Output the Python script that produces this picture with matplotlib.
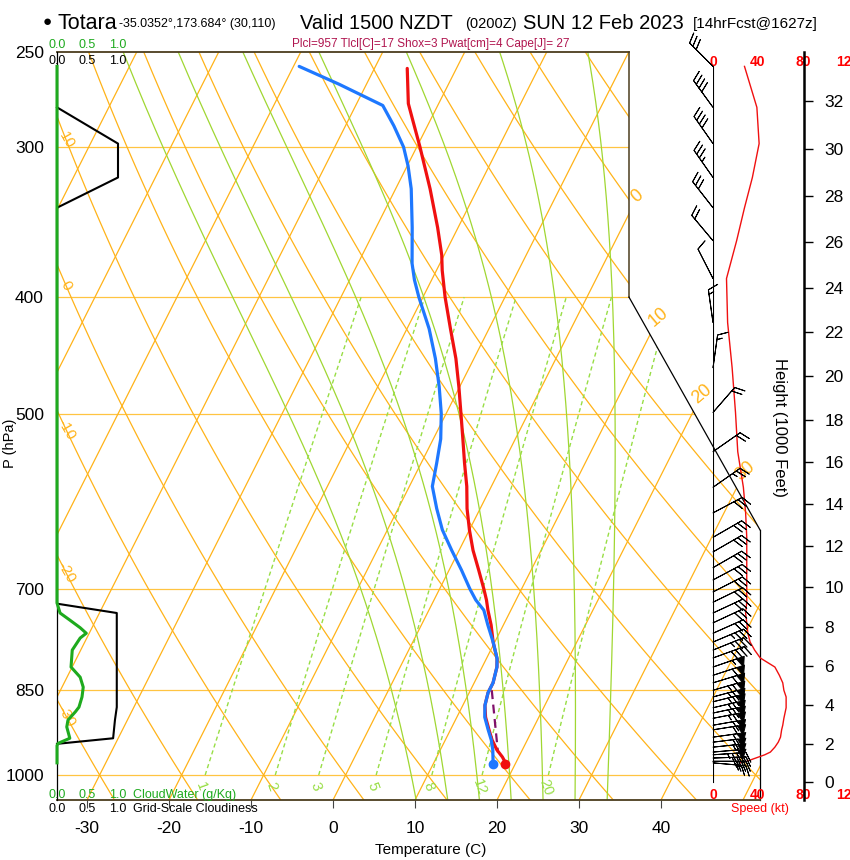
import numpy as np
import matplotlib
matplotlib.use("Agg")
import matplotlib.pyplot as plt
from matplotlib.transforms import Affine2D, blended_transform_factory
from matplotlib.patches import Polygon
from matplotlib.ticker import NullLocator

plt.rcParams['font.family'] = ['Liberation Sans', 'DejaVu Sans']
plt.rcParams['axes.unicode_minus'] = False

# ---------------- sounding data ----------------
temp_p = [258, 276, 284, 300, 325, 350, 369, 380, 400, 425, 450, 475, 500, 525, 550, 575, 600, 625, 650, 675,
          700, 715, 729, 750, 775, 800, 813, 838, 854, 875, 895, 917, 935, 953, 966, 979]
temp_c = [-36.0, -33.7, -32.3, -29.6, -25.8, -22.5, -20.3, -19.3, -17.3, -14.7, -12.2, -10.1, -8.2, -6.4, -4.7,
          -3.0, -1.6, 0.0, 1.7, 3.6, 5.4, 6.4, 7.2, 8.5, 9.8, 11.3, 11.8, 12.3, 12.3, 12.7, 13.5, 14.7, 15.7,
          16.9, 18.0, 18.9]
dewp_p = [257, 266, 277, 288, 300, 311, 325, 350, 375, 387, 400, 425, 450, 475, 500, 525, 550, 575, 600, 625,
          650, 675, 700, 715, 729, 750, 775, 800, 813, 838, 854, 875, 895, 917, 935, 953, 979]
dewp_c = [-49.3, -43.3, -36.7, -34.1, -31.6, -29.9, -28.1, -25.6, -23.4, -22.1, -20.5, -17.3, -14.7, -12.5,
          -10.6, -9.1, -8.1, -7.2, -5.3, -3.3, -0.9, 1.5, 3.7, 5.1, 6.7, 8.1, 9.8, 11.3, 11.8, 12.3, 12.3, 12.7,
          13.4, 14.6, 15.6, 16.4, 17.3]
dashed_p = [850, 958]
dashed_c = [12.6, 17.2]
sfc_p = 979
sfc_t = 18.8
sfc_td = 17.3

wind_p = [257, 278, 298, 318, 337, 359, 386, 420, 458, 499, 538, 576, 605, 634, 652, 672, 688, 704, 718, 733,
          747, 762, 775, 787, 799, 813, 826, 838, 850, 861, 869, 879, 888, 897, 909, 917, 930, 939, 948, 957,
          962, 968, 974, 977]
wind_spd = [28, 39, 41, 35, 28, 21, 12, 13, 17, 20, 22, 27, 29, 30, 30, 30, 30, 30, 30, 29,
            30, 31, 33, 37, 42, 55, 59, 62, 63, 65, 65, 65, 64, 63, 62, 61, 60, 58, 55, 51,
            46, 38, 30, 24]
wind_dir = [315, 324, 325, 325, 322, 320, 333, 352, 8, 41, 55, 55, 62, 60, 60, 60, 62, 63, 64, 65,
            65, 66, 67, 68, 70, 71, 72, 73, 74, 75, 76, 77, 78, 79, 80, 81, 82, 83, 84, 85,
            86, 88, 90, 95]

cloudiness_p = [278, 298, 318, 337, 720, 733, 813, 878, 900, 932, 942]
cloudiness = [0.0, 1.0, 1.0, 0.0, 0.0, 0.98, 0.98, 0.98, 0.95, 0.92, 0.0]
cloudwater_p = [257, 719, 733, 743, 754, 762, 769, 787, 813, 829, 845, 861, 878, 886, 900, 912, 932, 941, 945, 977]
cloudwater = [0, 0, 0.05, 0.21, 0.38, 0.48, 0.38, 0.25, 0.23, 0.38, 0.43, 0.41, 0.36, 0.30, 0.18, 0.16, 0.21,
              0.02, 0, 0]

isobars = [300, 400, 500, 700, 850, 1000]
isotherms = list(range(-110, 60, 10))
dry_thetas = list(range(-30, 130, 10))
moist_thetaw = [8, 12, 16, 20, 24, 28, 32]
mixing_ratios = [1, 2, 3, 5, 8, 12, 20]
temp_ticks = [-30, -20, -10, 0, 10, 20, 30, 40]
p_ticks = [250, 300, 400, 500, 700, 850, 1000]
height_kft = list(range(0, 34, 2))
speed_ticks = [0, 40, 80, 120]
cloud_ticks = [0.0, 0.5, 1.0]
theta_labels = [10, 0, -10, -20, -30]
isotherm_labels = [0, 10, 20, 30]

# ---------------- colours ----------------
ORANGE = '#FFB319'
GREEN_MOIST = '#A0D732'
GREEN_MR = '#98DE45'
CW_GREEN = '#1EAA1E'
BLUE = '#1E78FF'
RED = '#F01010'
PURPLE = '#80106A'
PINK = '#B0154F'
OLIVE = '#4B3D1E'

# ---------------- layout ----------------
W, H = 850, 860
fig = plt.figure(figsize=(W / 100, H / 100), dpi=100)


def fx(x):
    return x / W


def fy(y):
    return 1 - y / H


AX_L, AX_R, AX_T, AX_B = 57, 760, 52, 800
rect = [fx(AX_L), fy(AX_B), (AX_R - AX_L) / W, (AX_B - AX_T) / H]
ax = fig.add_axes(rect)
XMIN, XMAX = -33.66, 52.07
P_BOT, P_TOP = 1049.1, 250.0
ax.set_yscale('log')
ax.set_xlim(XMIN, XMAX)
ax.set_ylim(P_BOT, P_TOP)
ax.set_autoscale_on(False)
SKEW = 0.5373
skew_tr = ax.transScale + ax.transLimits + Affine2D().skew(np.arctan(SKEW), 0) + ax.transAxes


def yfrac(p):
    return np.log(P_BOT / np.asarray(p, float)) / np.log(P_BOT / P_TOP)


def xfrac(T, p):
    return (np.asarray(T, float) - XMIN) / (XMAX - XMIN) + SKEW * yfrac(p)


XA_CORNER = (629 - AX_L) / (AX_R - AX_L)
P_KNEE1, P_KNEE2 = 400, 625
clip_verts = [(0, 0), (0, 1), (XA_CORNER, 1), (XA_CORNER, yfrac(P_KNEE1)), (1, yfrac(P_KNEE2)), (1, 0)]
clip = Polygon(clip_verts, closed=True, transform=ax.transAxes, facecolor='none', edgecolor='none')


def boundary_x(p):
    p = np.asarray(p, float)
    yk1, yk2 = yfrac(P_KNEE1), yfrac(P_KNEE2)
    yf = yfrac(p)
    xb = np.where(yf >= yk1, XA_CORNER,
                  np.where(yf >= yk2, XA_CORNER + (1 - XA_CORNER) * (yk1 - yf) / (yk1 - yk2), 1.0))
    return xb


def skline(T, p, **kw):
    ln, = ax.plot(T, p, transform=skew_tr, **kw)
    ln.set_clip_path(clip)
    return ln


# isobars
for pb in isobars:
    ln, = ax.plot([0, 1], [yfrac(pb)] * 2, transform=ax.transAxes, color='#FFC442', lw=0.9)
    ln.set_clip_path(clip)

# isotherms
for T in isotherms:
    skline([T, T], [P_BOT, P_TOP], color=ORANGE, lw=0.9)

# dry adiabats
pgrid = np.geomspace(P_BOT, P_TOP, 80)
for th in dry_thetas:
    skline((th + 273.15) * (pgrid / 1000.0) ** 0.2857 - 273.15, pgrid, color=ORANGE, lw=0.9)

# moist adiabats
Rd, Cp, Lv, EPS = 287.04, 1005.7, 2.501e6, 0.622


def sat_mr(Tk, p):
    es = 6.112 * np.exp(17.67 * (Tk - 273.15) / (Tk - 29.65))
    return EPS * es / (p - es)


def dtdp(Tk, p):
    rs = sat_mr(Tk, p)
    return (Rd * Tk + Lv * rs) / (Cp + Lv * Lv * rs * EPS / (Rd * Tk * Tk)) / p


def integrate(T0, p0, p1, n=300):
    ps = np.linspace(p0, p1, n)
    Ts = [T0]
    for i in range(n - 1):
        p, h = ps[i], ps[i + 1] - ps[i]
        T = Ts[-1]
        k1 = dtdp(T, p)
        k2 = dtdp(T + h / 2 * k1, p + h / 2)
        k3 = dtdp(T + h / 2 * k2, p + h / 2)
        k4 = dtdp(T + h * k3, p + h)
        Ts.append(T + h / 6 * (k1 + 2 * k2 + 2 * k3 + k4))
    return ps, np.array(Ts)


for thw in moist_thetaw:
    pu, tu = integrate(thw + 273.15, 1000.0, P_TOP)
    pd, td = integrate(thw + 273.15, 1000.0, P_BOT, 30)
    pp = np.concatenate([pd[::-1], pu[1:]])
    tt = np.concatenate([td[::-1], tu[1:]]) - 273.15
    skline(tt, pp, color=GREEN_MOIST, lw=0.9)


# mixing ratio lines
def td_from_w(w, p):
    e = w * p / (622.0 + w)
    lr = np.log(e / 6.112)
    return 243.5 * lr / (17.67 - lr)


pm = np.geomspace(1000, 400, 40)
for w in mixing_ratios:
    skline(td_from_w(w, pm), pm, color=GREEN_MR, lw=1.0, ls=(0, (3, 2.2)))
    ax.text(td_from_w(w, 1023.0), 1023.0, str(w), transform=skew_tr, rotation=-70, color=GREEN_MR,
            fontsize=10.5, ha='center', va='center')

# dry adiabat labels at left edge
pfine = np.geomspace(P_BOT, P_TOP, 2000)
for th in theta_labels:
    Tc = (th + 273.15) * (pfine / 1000.0) ** 0.2857 - 273.15
    xf = xfrac(Tc, pfine)
    order = np.argsort(xf)
    pl = np.interp(0.013, xf[order], pfine[order])
    Tl = (th + 273.15) * (pl / 1000.0) ** 0.2857 - 273.15
    ax.text(Tl, pl, str(th), transform=skew_tr, rotation=-60, color=ORANGE, fontsize=11,
            ha='center', va='center')

# isotherm labels at right boundary
for T in isotherm_labels:
    xf = xfrac(T, pfine)
    xb = boundary_x(pfine)
    idx = np.argmax(xf >= xb)
    yl = yfrac(pfine[idx]) + 17 / (AX_B - AX_T)
    pl = P_BOT * (P_TOP / P_BOT) ** yl
    ax.text(T, pl, str(T), transform=skew_tr, rotation=40, color=ORANGE, fontsize=13,
            ha='center', va='center', clip_on=False)

# profiles
skline(dashed_c, dashed_p, color=PURPLE, lw=1.6, ls=(0, (4, 2.5)), zorder=4)
skline(temp_c, temp_p, color=RED, lw=2.3, zorder=5, solid_capstyle='round')
skline(dewp_c, dewp_p, color=BLUE, lw=2.3, zorder=6, solid_capstyle='round')
skline([sfc_t], [sfc_p], color=RED, marker='o', ms=6, ls='none', zorder=7)
skline([sfc_td], [sfc_p], color=BLUE, marker='o', ms=6, ls='none', zorder=7)

# frame
ya1, ya2 = yfrac(P_KNEE1), yfrac(P_KNEE2)
kw = dict(transform=ax.transAxes, clip_on=False, zorder=8)
ax.plot([0, XA_CORNER], [1, 1], color=OLIVE, lw=1.3, **kw)
ax.plot([XA_CORNER, XA_CORNER], [1, ya1], color=OLIVE, lw=1.1, **kw)
ax.plot([XA_CORNER, 1], [ya1, ya2], color='black', lw=0.9, **kw)
ax.plot([1, 1], [ya2, 0], color='black', lw=0.9, **kw)
ax.plot([0, 1], [0, 0], color=OLIVE, lw=1.3, **kw)
ax.plot([0, 0], [0, 1], color='black', lw=0.9, **kw)
for s in ax.spines.values():
    s.set_visible(False)

ax.set_xticks(temp_ticks)
ax.set_xticklabels([str(t) for t in temp_ticks])
ax.tick_params(axis='x', length=6, direction='out', color='#444444', labelsize=12.5, pad=9)
ax.set_yticks(p_ticks)
ax.set_yticklabels([str(p) for p in p_ticks])
ax.yaxis.set_minor_locator(NullLocator())
ax.tick_params(axis='y', length=0, labelsize=12.5, pad=9.5)
fig.text(fx(431), fy(850), 'Temperature (C)', fontsize=11, ha='center', va='center')
fig.text(fx(10), fy(443), 'P (hPa)', fontsize=10.5, rotation=90, ha='center', va='center')

# ---------------- cloud panel ----------------
ax_c = fig.add_axes([fx(AX_L), rect[1], (118 - AX_L) / W, rect[3]])
ax_c.set_yscale('log')
ax_c.set_xlim(0, 1)
ax_c.set_ylim(P_BOT, P_TOP)
ax_c.axis('off')
ax_c.plot(cloudiness, cloudiness_p, color='black', lw=1.5, clip_on=False)
ax_c.plot(cloudwater, cloudwater_p, color=CW_GREEN, lw=2.2, clip_on=False)
bt_c = blended_transform_factory(ax_c.transData, fig.transFigure)
for v in cloud_ticks:
    for yy, col in [(45, CW_GREEN), (61, 'black'), (795, CW_GREEN), (809, 'black')]:
        ax_c.text(v, fy(yy), f'{v:.1f}', transform=bt_c, color=col, fontsize=9, ha='center', va='center')
fig.text(fx(133), fy(795), 'CloudWater (g/Kg)', color=CW_GREEN, fontsize=9, ha='left', va='center')
fig.text(fx(133), fy(809), 'Grid-Scale Cloudiness', color='black', fontsize=9, ha='left', va='center')

# ---------------- wind panel ----------------
ax_w = fig.add_axes([fx(713), rect[1], (848 - 713) / W, rect[3]])
ax_w.set_yscale('log')
ax_w.set_xlim(0, 120)
ax_w.set_ylim(P_BOT, P_TOP)
ax_w.axis('off')
ax_w.plot([0, 0], [257, 1013], color='black', lw=0.8)
ax_w.plot(wind_spd, wind_p, color=RED, lw=1.0, clip_on=False)
d = np.deg2rad(wind_dir)
spd = np.asarray(wind_spd, float)
u = -spd * np.sin(d)
v = -spd * np.cos(d)
ax_w.barbs(np.zeros(len(wind_p)), wind_p, u, v, length=6.9, linewidth=0.7, color='black',
           sizes=dict(spacing=0.14, height=0.3, width=0.25), clip_on=False, zorder=5)
bt_w = blended_transform_factory(ax_w.transData, fig.transFigure)
for s in speed_ticks:
    for yy in (62, 795):
        ax_w.text(s, fy(yy), str(s), transform=bt_w, color='red', fontsize=10, fontweight='bold',
                  ha='center', va='center', clip_on=False)
fig.text(fx(760), fy(809), 'Speed (kt)', color='red', fontsize=9, ha='center', va='center')

# ---------------- height axis ----------------
ax_h = fig.add_axes([fx(803), rect[1], 1 / W, rect[3]])
ax_h.set_yscale('log')
ax_h.set_ylim(P_BOT, P_TOP)
ax_h.patch.set_alpha(0)
for k, s in ax_h.spines.items():
    s.set_visible(k == 'right')
ax_h.spines['right'].set_linewidth(1.8)
z = np.asarray(height_kft, float) * 1000 * 0.3048
hp = 1013.25 * (1 - 2.25577e-5 * z) ** 5.25588
ax_h.set_yticks(hp)
ax_h.set_yticklabels([str(h) for h in height_kft])
ax_h.yaxis.set_minor_locator(NullLocator())
ax_h.set_xticks([])
ax_h.tick_params(axis='y', left=False, right=True, labelleft=False, labelright=True, direction='out',
                 length=6.5, width=1, pad=8, labelsize=12.5)
fig.text(fx(780), fy(427), 'Height (1000 Feet)', fontsize=12, rotation=270, ha='center', va='center')

# ---------------- header ----------------
fig.text(fx(47), fy(22), '\u25CF', fontsize=11, ha='center', va='center')
fig.text(fx(57), fy(29), 'Totara', fontsize=15.5, ha='left', va='baseline')
fig.text(fx(119), fy(27), '-35.0352\u00b0,173.684\u00b0 (30,110)', fontsize=9, ha='left', va='baseline')
fig.text(fx(300), fy(29), 'Valid 1500 NZDT', fontsize=14.5, ha='left', va='baseline')
fig.text(fx(465), fy(28), '(0200Z)', fontsize=10.5, ha='left', va='baseline')
fig.text(fx(523), fy(29), 'SUN 12 Feb 2023', fontsize=14.5, ha='left', va='baseline')
fig.text(fx(693), fy(28), '[14hrFcst@1627z]', fontsize=11, ha='left', va='baseline')
fig.text(fx(431), fy(44), 'Plcl=957 Tlcl[C]=17 Shox=3 Pwat[cm]=4 Cape[J]= 27', color=PINK, fontsize=8.5,
         ha='center', va='center')

fig.savefig('out.png', dpi=100, facecolor='white')
